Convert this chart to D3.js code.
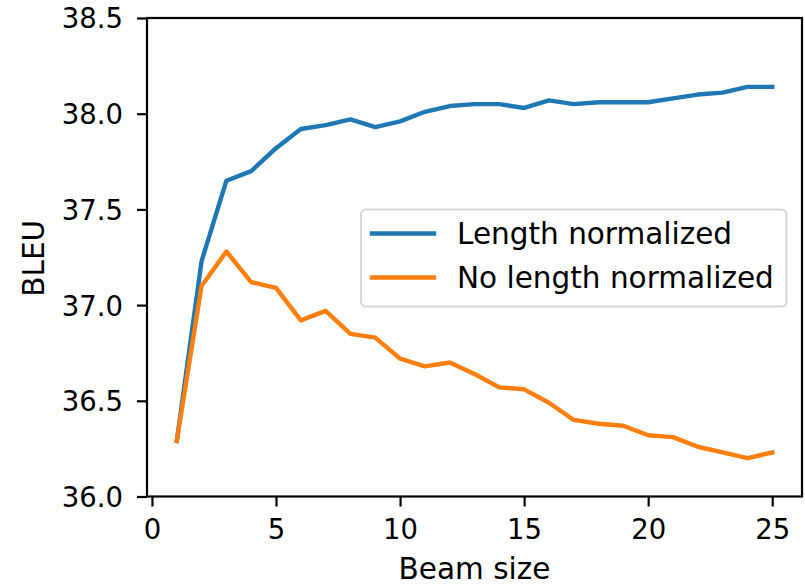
<!DOCTYPE html>
<html>
<head>
<meta charset="utf-8">
<script src="https://cdn.jsdelivr.net/npm/d3@7"></script>
<style>
  html, body { margin: 0; padding: 0; background: #fff; }
  svg { display: block; font-family: "DejaVu Sans", sans-serif; }
</style>
</head>
<body>
<svg id="chart" width="805" height="586"></svg>
<script>
// ---- data ----
const beamSizes = [1,2,3,4,5,6,7,8,9,10,11,12,13,14,15,16,17,18,19,20,21,22,23,24,25];
const lengthNormalized = [36.29,37.23,37.65,37.70,37.82,37.92,37.94,37.97,37.93,37.96,38.01,38.04,38.05,38.05,38.03,38.07,38.05,38.06,38.06,38.06,38.08,38.10,38.11,38.14,38.14];
const noLengthNormalized = [36.29,37.10,37.28,37.12,37.09,36.92,36.97,36.85,36.83,36.72,36.68,36.70,36.64,36.57,36.56,36.49,36.40,36.38,36.37,36.32,36.31,36.26,36.23,36.20,36.23];
const seriesNames = ["Length normalized", "No length normalized"];
const xTicks = [0,5,10,15,20,25];
const yTicks = [36.0,36.5,37.0,37.5,38.0,38.5];
const xLabel = "Beam size";
const yLabel = "BLEU";

// ---- layout ----
const L = 147, R = 802, T = 18, B = 496.5;
const TICK_FS = 27.5, LABEL_FS = 29.5;
const colors = ["#1f77b4", "#ff7f0e"];

const svg = d3.select("#chart");
const x = d3.scaleLinear().domain([-0.2, 26.2]).range([L, R]);
const y = d3.scaleLinear().domain([36.0, 38.5]).range([B, T]);

// lines
const line = d3.line().x((d, i) => x(beamSizes[i])).y(d => y(d));
[lengthNormalized, noLengthNormalized].forEach((s, k) => {
  svg.append("path")
    .attr("d", line(s))
    .attr("fill", "none")
    .attr("stroke", colors[k])
    .attr("stroke-width", 4.4)
    .attr("stroke-linejoin", "round")
    .attr("stroke-linecap", "square");
});

// x axis
const xAxis = d3.axisBottom(x).tickValues(xTicks).tickFormat(d3.format("d")).tickSize(10).tickPadding(12);
const gx = svg.append("g").attr("transform", `translate(0,${B})`).call(xAxis);
gx.select(".domain").remove();
gx.selectAll(".tick line").attr("stroke", "#000").attr("stroke-width", 2.2);
gx.selectAll(".tick text").attr("font-size", TICK_FS).attr("fill", "#000")
  .attr("font-family", "DejaVu Sans, sans-serif").attr("dy", "0.74em");

// y axis
const yAxis = d3.axisLeft(y).tickValues(yTicks).tickFormat(d3.format(".1f")).tickSize(10).tickPadding(14);
const gy = svg.append("g").attr("transform", `translate(${L},0)`).call(yAxis);
gy.select(".domain").remove();
gy.selectAll(".tick line").attr("stroke", "#000").attr("stroke-width", 2.2);
gy.selectAll(".tick text").attr("font-size", TICK_FS).attr("fill", "#000")
  .attr("font-family", "DejaVu Sans, sans-serif").attr("dy", "0.36em");

// spines
svg.append("rect").attr("x", L).attr("y", T).attr("width", R - L).attr("height", B - T)
  .attr("fill", "none").attr("stroke", "#000").attr("stroke-width", 2.2);

// axis labels
svg.append("text").attr("x", (L + R) / 2).attr("y", 578.5).attr("text-anchor", "middle")
  .attr("font-size", LABEL_FS).attr("fill", "#000").text(xLabel);
svg.append("text").attr("transform", `translate(44,${(T + B) / 2 + 1}) rotate(-90)`)
  .attr("text-anchor", "middle").attr("font-size", LABEL_FS).attr("fill", "#000").text(yLabel);

// legend
const lg = svg.append("g");
lg.append("rect").attr("x", 361).attr("y", 209.5).attr("width", 425.5).attr("height", 97)
  .attr("rx", 5).attr("ry", 5)
  .attr("fill", "#fff").attr("fill-opacity", 0.8)
  .attr("stroke", "#cccccc").attr("stroke-opacity", 0.8).attr("stroke-width", 2);
const rowY = [233.5, 277.5];
seriesNames.forEach((n, k) => {
  lg.append("line").attr("x1", 372).attr("x2", 434).attr("y1", rowY[k]).attr("y2", rowY[k])
    .attr("stroke", colors[k]).attr("stroke-width", 4.4).attr("stroke-linecap", "square");
  lg.append("text").attr("x", 457).attr("y", rowY[k]).attr("dy", "0.36em")
    .attr("font-size", LABEL_FS).attr("fill", "#000").text(n);
});
</script>
</body>
</html>
